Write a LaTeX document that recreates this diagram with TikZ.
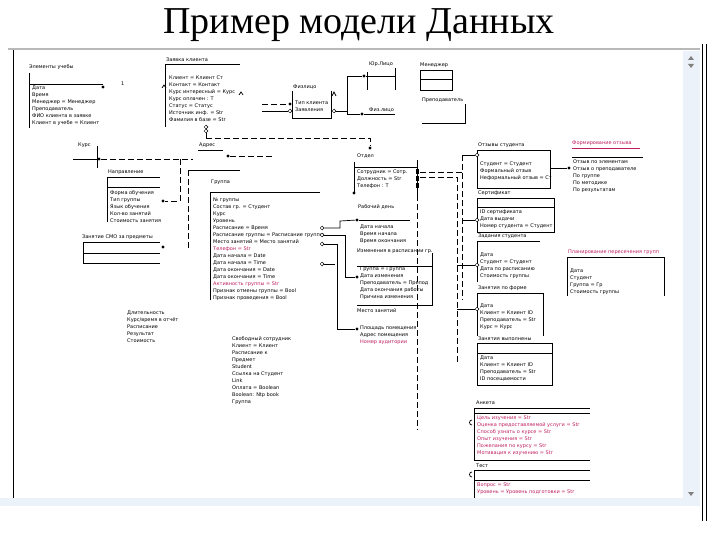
\documentclass[tikz,border=0pt]{standalone}
\usepackage{fontspec}
\setmainfont{Liberation Serif}
\newfontfamily\uifont{DejaVu Sans}
\usetikzlibrary{positioning,shapes.geometric}
\definecolor{rosetext}{RGB}{190,30,95}
\definecolor{barblue}{RGB}{236,242,250}

\tikzset{
  attr/.style={font=\uifont\fontsize{5}{7}\selectfont, anchor=north west, inner sep=0pt, align=left},
  lbl/.style={font=\uifont\fontsize{5}{6}\selectfont, anchor=south west, inner sep=0pt},
  box/.style={line width=0.8pt},
  link/.style={line width=0.7pt},
  dlink/.style={line width=0.9pt, dash pattern=on 6pt off 3pt},
  dot/.style={circle, fill, inner sep=1.1pt},
  odia/.style={diamond, draw, fill=white, line width=0.5pt, inner sep=1pt}
}

\begin{document}
\begin{tikzpicture}[x=1pt,y=-1pt]
  \useasboundingbox (0,0) rectangle (720,540);
  \node[font=\fontsize{38}{38}\selectfont] (title) at (359,25) {Пример модели Данных};

  % window frame
  \draw[gray!55, line width=1.6pt] (8,49) -- (700,49);
  \draw[line width=0.9pt] (13,50) -- (13,500);
  \fill[barblue] (683,51) rectangle (700,498);
  \fill[barblue] (0,498) rectangle (700,506);
  \draw[line width=0.9pt] (702,44) -- (702,521) (706,44) -- (706,521);
  \fill[gray] (688,60) -- (691,56) -- (694,60) -- cycle;
  \fill[gray] (688,64) -- (694,64) -- (691,68) -- cycle;
  \fill[gray] (688,492) -- (694,492) -- (691,496) -- cycle;

  % Элементы учебы
  \node[lbl] (plan) at (29,70) {Элементы учебы};
  \draw[box] (29,73) -- (29,128) (29,84) -- (103,84);
  \node[attr] (planA) at (32,86) {Дата\\Время\\Менеджер = Менеджер\\Преподаватель\\ФИО клиента в заявке\\Клиент в учебе = Клиент};
  \node[dot] (planD) at (103,87) {};
  \node[attr] (planN) at (121,82) {1};

  % Заявка клиента
  \node[lbl] (zayav) at (166,62) {Заявка клиента};
  \draw[box] (165,64) -- (240,64) (165,64) -- (165,127);
  \node[attr] (zayavA) at (169,76) {Клиент = Клиент Ст\\Контакт = Контакт\\Курс интересный = Курс\\Курс оплачен : T\\Статус = Статус\\Источник инф. = Str\\Фамилия в базе = Str};
  \draw[link] (162,88) -- (164,85) -- (166,88);
  \draw[link] (239,95) -- (241,92) -- (243,95);
  \node[odia] (adrD1) at (206,127) {};
  \node[odia] (adrD2) at (206,131) {};
  \coordinate (adrT) at (206,138);
  \node[dot] (otdD) at (370,148) {};
  \draw[link] (adrD2) -- (adrT);
  \draw[dlink] (adrT) -- (370,138) -- (otdD);

  % Адрес
  \node[lbl] (adr) at (199,148) {Адрес};
  \draw[link] (198,150) -- (223,150);
  \node[dot] (adrDot) at (228,156) {};
  \coordinate (adrEnd) at (272,156);
  \draw[dlink] (adrDot) -- (adrEnd);

  % Физлицо
  \node[lbl] (fiz) at (293,89) {Физлицо};
  \draw[box] (292,91) -- (292,118) -- (331,118) -- (331,91);
  \node[attr] (fizA) at (295,101) {Тип клиента\\Заявления};
  \coordinate (fizIn1) at (262,104);
  \coordinate (fizIn2) at (262,111);
  \node[dot] (fizD1) at (290,104) {};
  \node[odia] (fizD2) at (290,111) {};
  \draw[dlink] (fizIn1) -- (fizD1);
  \draw[link] (fizIn2) -- (fizD2);
  \draw[link] (332,96) -- (334,92) -- (336,96);
  \node[odia] (fizD3) at (334,111) {};
  \node[dot] (urD) at (364,76) {};
  \node[dot] (fizlD) at (362,114) {};
  \draw[link] (fizD3) -- (347,111) -- (347,76) -- (urD);
  \draw[link] (347,111) -- (347,114) -- (fizlD);

  % Юр.Лицо
  \node[lbl] (ur) at (369,67) {Юр.Лицо};
  \draw[box] (urD) -- (395,76) (367,72) -- (367,90) (395,68) -- (395,90);

  % Физ.лицо
  \node[lbl] (fizl) at (369,112) {Физ.лицо};
  \draw[box] (fizlD) -- (395,114);

  % Менеджер
  \node[lbl] (men) at (420,68) {Менеджер};
  \draw[box] (420,70) rectangle (452,90) (420,79) -- (452,79);

  % Преподаватель
  \node[lbl] (prep) at (422,103) {Преподаватель};
  \draw[box] (465,104) -- (465,123) -- (422,123);

  % Курс
  \node[lbl] (kurs) at (78,148) {Курс};
  \draw[box] (73,159) -- (98,159) (97,146) -- (97,168);
  \node[dot] (kursD) at (99,159) {};
  \node[dot] (naprD) at (163,201) {};
  \coordinate (kursEnd) at (193,159);
  \draw[dlink] (kursD) -- (kursEnd);
  \draw[dlink] (180,159) -- (180,201) -- (naprD);

  % Направление
  \node[lbl] (napr) at (108,175) {Направление};
  \draw[box] (107,177) -- (160,177) (107,177) -- (107,222) (107,187) -- (160,187);
  \node[attr] (naprA) at (110,190) {Форма обучения\\Тип группы\\Язык обучения\\Кол-во занятий\\Стоимость занятия};

  % Занятие
  \node[lbl] (zan) at (82,240) {Занятие СМО за предметы};
  \draw[box] (83,242) -- (160,242) (83,242) -- (83,263) (83,253) -- (160,253) (83,263) -- (160,263);
  \node[dot] (zanD) at (163,247) {};
  \coordinate (grpTop) at (240,170);
  \draw[dlink] (188,248) -- (188,170);
  \draw[link] (188,170) -- (grpTop);

  % Группа
  \node[lbl] (grp) at (211,185) {Группа};
  \draw[box] (210,192) -- (320,192) (210,192) -- (210,300);
  \node[attr] (grpA) at (213,198) {№ группы\\Состав гр. = Студент\\Курс\\Уровень\\Расписание = Время\\Расписание группы = Расписание группы\\Место занятий = Место занятий\\\textcolor{rosetext}{Телефон = Str}\\Дата начала = Date\\Дата начала = Time\\Дата окончания = Date\\Дата окончания = Time\\\textcolor{rosetext}{Активность группы = Str}\\Признак отмены группы = Bool\\Признак проведения = Bool};
  \node[odia] (g1) at (322,228) {};
  \node[odia] (g2) at (322,235) {};
  \node[odia] (g3) at (322,244) {};
  \node[odia] (g4) at (322,264) {};

  % Отдел
  \node[lbl] (otd) at (357,158) {Отдел};
  \draw[box] (354,162) -- (354,193) (354,167) -- (417,167) (417,160) -- (417,195);
  \node[attr] (otdA) at (357,170) {Сотрудник = Сотр.\\Должность = Str\\Телефон : T};
  \node[dot] (otdD2) at (354,193) {};
  \foreach \y in {172,179,186} {
    \fill (415.5,\y-2.5) rectangle (418.5,\y+2.5);
  }
  \draw[dlink] (417,195) -- (417,430);
  \draw[dlink] (420,172) -- (462,172);
  \draw[dlink] (420,177) -- (457,177) -- (457,362);
  \draw[dlink] (462,155) -- (462,300);

  % Рабочий день
  \node[lbl] (rab) at (358,209) {Рабочий день};
  \node[dot] (rabD) at (357,220) {};
  \draw[box] (rabD) -- (410,220);
  \node[attr] (rabA) at (360,225) {Дата начала\\Время начала\\Время окончания};

  % Изменения
  \node[lbl] (izm) at (357,254) {Изменения в расписании гр.};
  \draw[box] (357,266) -- (432,266) (432,253) -- (432,305) -- (357,305);
  \node[attr] (izmA) at (360,267) {Группа = Группа\\Дата изменения\\Преподаватель = Препод\\Дата окончания работы\\Причина изменения};
  \node[dot] (izmD) at (357,277) {};

  % Место занятий
  \node[lbl] (mest) at (357,313) {Место занятий};
  \node[dot] (mestD) at (357,329) {};
  \node[attr] (mestA) at (360,326) {Площадь помещения\\Адрес помещения\\\textcolor{rosetext}{Номер аудитории}};

  % links from Группа
  \draw[link] (g1) -- (340,228) -- (340,221) -- (rabD);
  \draw[link] (g2) -- (345,235) -- (345,277) -- (izmD);
  \draw[link] (g3) -- (337,244) -- (337,329) -- (mestD);
  \draw[link] (g4) -- (335,264);

  % free texts
  \node[attr] (dlit) at (127,311) {Длительность\\Курс/время в отчёт\\Расписание\\Результат\\Стоимость};
  \node[attr] (free) at (232,336) {Свободный сотрудник\\Клиент = Клиент\\Расписание к\\Предмет\\Student\\Ссылка на Студент\\Link\\Оплата = Boolean\\Boolean: Ntp book\\Группа};

  % Отзывы студента
  \node[lbl] (otz) at (478,148) {Отзывы студента};
  \draw[box] (477,150) rectangle (550,188);
  \node[attr] (otzA) at (480,162) {Студент = Студент\\Формальный отзыв\\Неформальный отзыв = Ст};
  \node[odia] (otzD) at (477,155) {};
  \draw[link] (otzD) -- (462,155);
  \node[dot] (formD) at (569,168) {};
  \draw[link] (550,168) -- (formD);

  % Формирование отзыва
  \node[lbl, text=rosetext] (form) at (572,146) {Формирование отзыва};
  \draw[rosetext, link] (572,148) -- (640,148);
  \draw[box] (572,157) -- (643,157);
  \node[attr] (formA) at (573,160) {Отзыв по элементам\\Отзыв о преподавателе\\По группе\\По методике\\По результатам};

  % Сертификат
  \node[lbl] (sert) at (478,196) {Сертификат};
  \draw[box] (477,198) rectangle (554,232) (477,207) -- (554,207);
  \node[attr] (sertA) at (480,210) {ID сертификата\\Дата выдачи\\Номер студента = Студент};
  \node[odia] (sertD) at (477,220) {};
  \draw[link] (sertD) -- (462,220);

  % Задания студента
  \node[lbl] (zad) at (478,239) {Задания студента};
  \draw[box] (477,241) -- (540,241) (477,241) -- (477,282);
  \node[attr] (zadA) at (480,253) {Дата\\Студент = Студент\\Дата по расписанию\\Стоимость группы};
  \node[odia] (zadD) at (477,265) {};
  \draw[link] (zadD) -- (457,265);

  % Планирование
  \node[lbl, text=rosetext] (plg) at (568,255) {Планирование пересечения групп};
  \draw[box] (567,296) -- (567,257) -- (664,257) -- (664,296);
  \node[attr] (plgA) at (570,269) {Дата\\Студент\\Группа = Гр\\Стоимость группы};

  % Занятия по форме
  \node[lbl] (zf) at (478,291) {Занятия по форме};
  \draw[box] (477,293) -- (543,293) -- (543,336) (477,293) -- (477,336);
  \node[attr] (zfA) at (480,304) {Дата\\Клиент = Клиент ID\\Преподаватель = Str\\Курс = Курс};
  \node[odia] (zfD) at (477,309) {};
  \draw[link] (zfD) -- (457,309);

  % Занятия выполнены
  \node[lbl] (zv) at (478,341) {Занятия выполнены};
  \draw[box] (477,343) rectangle (552,385) (477,353) -- (552,353);
  \node[attr] (zvA) at (480,356) {Дата\\Клиент = Клиент ID\\Преподаватель = Str\\ID посещаемости};

  % Анкета
  \node[lbl] (ank) at (476,405) {Анкета};
  \draw[box] (474,408) -- (590,408) (474,413) -- (590,413) (474,408) -- (474,460) -- (590,460);
  \node[attr, text=rosetext] (ankA) at (477,416) {Цель изучения = Str\\Оценка предоставляемой услуги = Str\\Способ узнать о курсе = Str\\Опыт изучения = Str\\Пожелания по курсу = Str\\Мотивация к изучению = Str};
  \draw[link] (472,425) arc (90:270:2.5);

  % Тест
  \node[lbl] (test) at (476,468) {Тест};
  \draw[box] (474,470) -- (590,470) (474,480) -- (590,480) (474,470) -- (474,498);
  \node[attr, text=rosetext] (testA) at (477,483) {Вопрос = Str\\Уровень = Уровень подготовки = Str};
  \draw[link] (472,477) arc (90:270:2.5);
\end{tikzpicture}
\end{document}
